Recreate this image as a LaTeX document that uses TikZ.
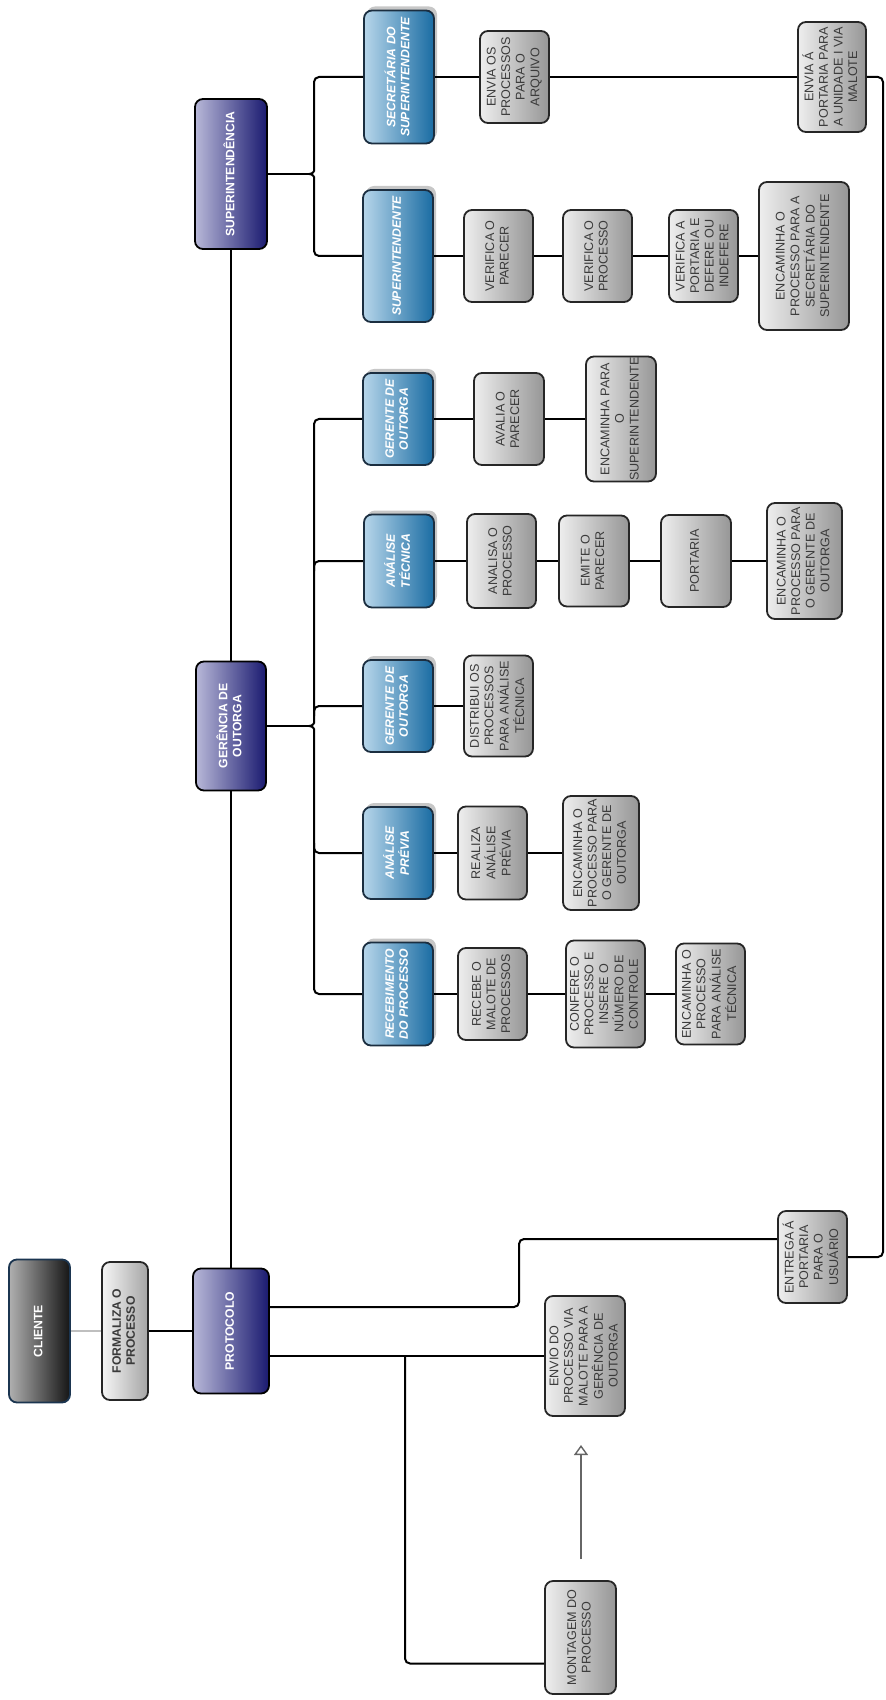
\documentclass[tikz,border=0pt]{standalone}
\usepackage{fontspec}
\setmainfont{Liberation Sans}
\usepackage{graphicx}
\usetikzlibrary{arrows.meta,shadows}
\definecolor{l1a}{RGB}{184,184,216}
\definecolor{l1b}{RGB}{26,26,112}
\definecolor{l2a}{RGB}{183,214,234}
\definecolor{l2b}{RGB}{26,108,163}
\definecolor{l2d}{RGB}{27,46,64}
\definecolor{ga}{RGB}{238,238,238}
\definecolor{gb}{RGB}{150,150,150}
\definecolor{gt}{RGB}{58,58,58}
\definecolor{ca}{RGB}{176,176,176}
\definecolor{cb}{RGB}{21,21,21}
\definecolor{cd}{RGB}{27,53,80}
\definecolor{fa}{RGB}{246,246,246}
\definecolor{fb}{RGB}{165,165,165}
\newcommand\rt[1]{\rotatebox{90}{\begin{tabular}{@{}c@{}}#1\end{tabular}}}
\tikzset{
  box/.style={draw, rounded corners=4pt, inner sep=0pt, line width=0.9pt},
  sz/.style 2 args={minimum width=#1pt, minimum height=#2pt},
  lone/.style={box, draw=black, left color=l1a, right color=l1b, text=white,
    font=\fontsize{6.1}{7}\selectfont\bfseries},
  ltwo/.style={box, draw=l2d, left color=l2a, right color=l2b, text=white,
    font=\fontsize{6.1}{7}\selectfont\bfseries\itshape,
    drop shadow={shadow xshift=1.5pt, shadow yshift=2pt, fill=black, opacity=0.22}},
  gbox/.style={box, draw=black!85, left color=ga, right color=gb, text=gt,
    font=\fontsize{6.3}{7.3}\selectfont},
  cbox/.style={box, draw=cd, left color=ca, right color=cb, text=white,
    font=\fontsize{6.1}{7}\selectfont\bfseries},
  fbox/.style={box, draw=black!85, left color=fa, right color=fb, text=gt,
    font=\fontsize{6.1}{7}\selectfont\bfseries},
  conn/.style={draw=black, line width=1pt, rounded corners=2.5pt},
  lg/.style={draw=black!25, line width=1pt},
  garrow/.style={draw=black!60, line width=0.7pt, -{Triangle[open, length=5pt, width=7pt]}}
}
\begin{document}
\begin{tikzpicture}[x=0.5pt, y=-0.5pt]
\fill[white] (0,0) rectangle (885,1700);
\useasboundingbox (0,0) rectangle (885,1700);

% level 1
\node[lone, sz={36}{75}] (sup) at (231,174) {\rt{SUPERINTENDÊNCIA}};
\node[lone, sz={35}{64.5}] (ger) at (231,726) {\rt{GERÊNCIA DE\\OUTORGA}};
\node[lone, sz={38}{62.5}] (prot) at (231,1331) {\rt{PROTOCOLO}};
\node[cbox, sz={30.5}{71.5}] (cli) at (39.5,1331) {\rt{CLIENTE}};
\node[fbox, sz={23}{69}] (form) at (125,1331) {\rt{FORMALIZA O\\PROCESSO}};

% level 2
\node[ltwo, sz={35}{66.5}] (sec) at (399,77) {\rt{SECRETÁRIA DO\\SUPERINTENDENTE}};
\node[ltwo, sz={35}{66}] (supt) at (398,256) {\rt{SUPERINTENDENTE}};
\node[ltwo, sz={35}{46}] (ger2) at (398,419) {\rt{GERENTE DE\\OUTORGA}};
\node[ltwo, sz={35}{46.5}] (atec) at (399,561) {\rt{ANÁLISE\\TÉCNICA}};
\node[ltwo, sz={35}{46}] (ger1) at (398,706) {\rt{GERENTE DE\\OUTORGA}};
\node[ltwo, sz={35}{46}] (aprev) at (398,853) {\rt{ANÁLISE\\PRÉVIA}};
\node[ltwo, sz={35}{51.5}] (receb) at (398,994) {\rt{RECEBIMENTO\\DO PROCESSO}};

% gray boxes
\node[gbox, sz={34.5}{46}] (envarq) at (514.5,77) {\rt{ENVIA OS\\PROCESSOS\\PARA O\\ARQUIVO}};
\node[gbox, sz={34}{55}] (envport) at (832,77) {\rt{ENVIA Á\\PORTARIA PARA\\A UNIDADE I VIA\\MALOTE}};
\node[gbox, sz={34.5}{46}] (vpar) at (498.5,256) {\rt{VERIFICA O\\PARECER}};
\node[gbox, sz={34.5}{46}] (vproc) at (597.5,256) {\rt{VERIFICA O\\PROCESSO}};
\node[gbox, sz={34.5}{46}] (vport) at (703.5,256) {\rt{VERIFICA A\\PORTARIA E\\DEFERE OU\\INDEFERE}};
\node[gbox, sz={45}{74}] (encsec) at (804,256) {\rt{ENCAMINHA O\\PROCESSO PARA A\\SECRETÁRIA DO\\SUPERINTENDENTE}};
\node[gbox, sz={35}{46}] (aval) at (509,419) {\rt{AVALIA O\\PARECER}};
\node[gbox, sz={35}{62.5}] (encsup) at (621,419) {\rt{ENCAMINHA PARA\\O\\SUPERINTENDENTE}};
\node[gbox, sz={34.5}{47}] (anal) at (501.5,561) {\rt{ANALISA O\\PROCESSO}};
\node[gbox, sz={35}{45.5}] (emite) at (594,561) {\rt{EMITE O\\PARECER}};
\node[gbox, sz={35}{46}] (port) at (696,561) {\rt{PORTARIA}};
\node[gbox, sz={37.5}{58}] (enctec) at (804.5,561) {\rt{ENCAMINHA O\\PROCESSO PARA\\O GERENTE DE\\OUTORGA}};
\node[gbox, sz={34.5}{50.5}] (dist) at (498.5,706) {\rt{DISTRIBUI OS\\PROCESSOS\\PARA ANÁLISE\\TÉCNICA}};
\node[gbox, sz={34.5}{46.5}] (real) at (492.5,853) {\rt{REALIZA\\ANÁLISE\\PRÉVIA}};
\node[gbox, sz={38}{57}] (encprev) at (601,853) {\rt{ENCAMINHA O\\PROCESSO PARA\\O GERENTE DE\\OUTORGA}};
\node[gbox, sz={34.5}{46}] (recebe) at (492.5,994) {\rt{RECEBE O\\MALOTE DE\\PROCESSOS}};
\node[gbox, sz={39.5}{53.5}] (conf) at (605.5,994) {\rt{CONFERE O\\PROCESSO E\\INSERE O\\NÚMERO DE\\CONTROLE}};
\node[gbox, sz={34.5}{50.5}] (encrec) at (710.5,994) {\rt{ENCAMINHA O\\PROCESSO\\PARA ANÁLISE\\TÉCNICA}};
\node[gbox, sz={34.5}{46}] (entrega) at (812.5,1257) {\rt{ENTREGA Á\\PORTARIA\\PARA O\\USUÁRIO}};
\node[gbox, sz={40}{60}] (envio) at (585,1356) {\rt{ENVIO DO\\PROCESSO VIA\\MALOTE PARA A\\GERÊNCIA DE\\OUTORGA}};
\node[gbox, sz={35.5}{56.5}] (mont) at (580.5,1637.5) {\rt{MONTAGEM DO\\PROCESSO}};

% main vertical chain
\draw[conn] (prot) -- (ger);
\draw[conn] (ger) -- (sup);
\draw[lg] (cli) -- (form);
\draw[conn] (form) -- (prot);

% superintendencia bus
\coordinate (sj) at (309,174);
\draw[conn] (sup) -- (sj);
\draw[conn] (sec.west) -| (314,166) .. controls (314,171) and (313,174) .. (sj);
\draw[conn] (supt.west) -| (314,182) .. controls (314,177) and (313,174) .. (sj);

% gerencia bus
\coordinate (gj) at (309,726);
\draw[conn] (ger) -- (gj);
\draw[conn] (ger2.west) -| (314,718) .. controls (314,723) and (313,726) .. (gj);
\draw[conn] (receb.west) -| (314,734) .. controls (314,729) and (313,726) .. (gj);
\coordinate (b1) at (314,571);
\coordinate (b2) at (314,716);
\coordinate (b3) at (314,843);
\draw[conn] (b1) |- (atec.west);
\draw[conn] (b2) |- (ger1.west);
\draw[conn] (b3) |- (aprev.west);

% rows
\draw[conn] (sec) -- (envarq) -- (envport);
\draw[conn] (supt) -- (vpar) -- (vproc) -- (vport) -- (encsec);
\draw[conn] (ger2) -- (aval) -- (encsup);
\draw[conn] (atec) -- (anal) -- (emite) -- (port) -- (enctec);
\draw[conn] (ger1) -- (dist);
\draw[conn] (aprev) -- (real) -- (encprev);
\draw[conn] (receb) -- (recebe) -- (conf) -- (encrec);

% protocolo branches
\coordinate (pk) at (519,1273);
\draw[conn] ([yshift=12pt]prot.east) -| (pk) |- ([yshift=9pt]entrega.west);
\draw[conn] ([yshift=-12.5pt]prot.east) -- (envio.west);
\coordinate (mb) at (405,1356);
\draw[conn] (mb) |- ([yshift=-13pt]mont.west);
\coordinate (af) at (581,1559);
\coordinate (at) at (581,1445);
\draw[garrow] (af) -- (at);

% right return line
\coordinate (rc) at (883,1257);
\draw[conn] (envport.east) -| (rc) -- (entrega.east);
\end{tikzpicture}
\end{document}
